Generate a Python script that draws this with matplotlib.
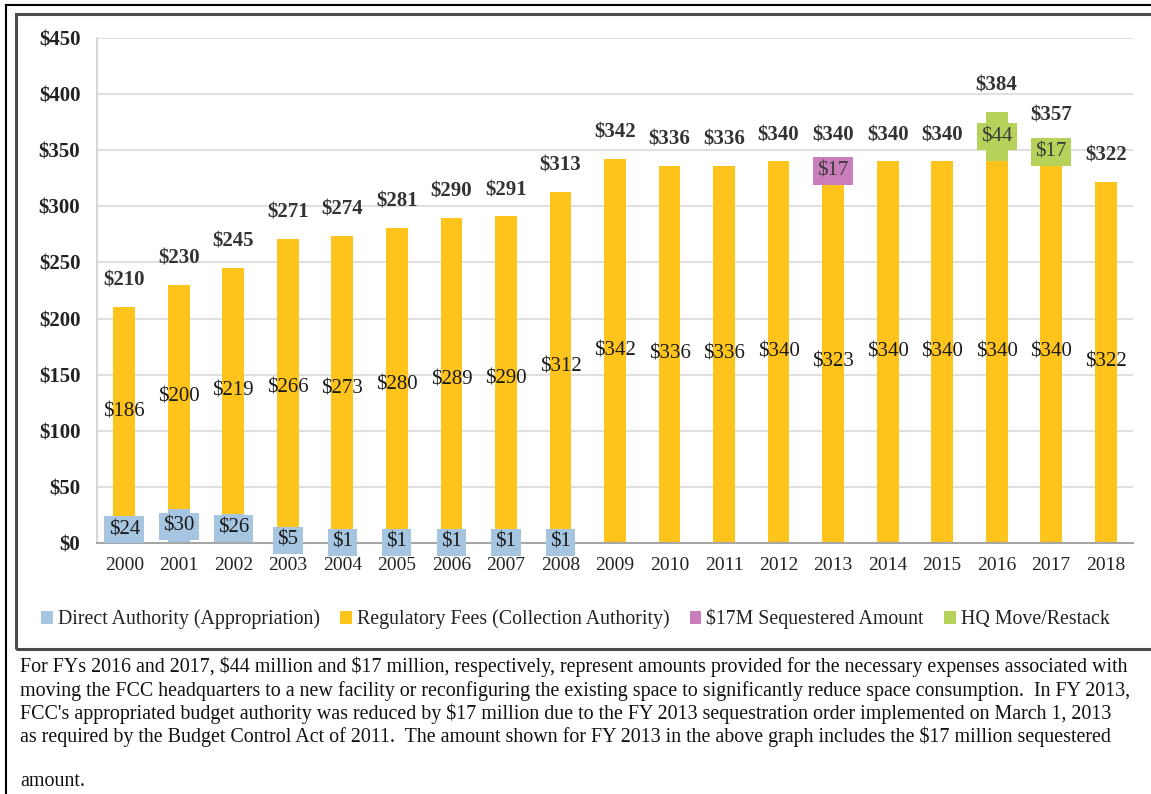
import numpy as np
import matplotlib
matplotlib.use("Agg")
import matplotlib.pyplot as plt
from matplotlib.lines import Line2D
from matplotlib.patches import Rectangle

plt.rcParams['font.family'] = ['Liberation Serif', 'DejaVu Serif']
plt.rcParams['text.parse_math'] = False

years = ['2000', '2001', '2002', '2003', '2004', '2005', '2006', '2007', '2008', '2009',
         '2010', '2011', '2012', '2013', '2014', '2015', '2016', '2017', '2018']
direct = [24, 30, 26, 5, 1, 1, 1, 1, 1, 0, 0, 0, 0, 0, 0, 0, 0, 0, 0]
fees = [186, 200, 219, 266, 273, 280, 289, 290, 312, 342, 336, 336, 340, 323, 340, 340, 340, 340, 322]
sequestered = [0, 0, 0, 0, 0, 0, 0, 0, 0, 0, 0, 0, 0, 17, 0, 0, 0, 0, 0]
hq_move = [0, 0, 0, 0, 0, 0, 0, 0, 0, 0, 0, 0, 0, 0, 0, 0, 44, 17, 0]
totals = [210, 230, 245, 271, 274, 281, 290, 291, 313, 342, 336, 336, 340, 340, 340, 340, 384, 357, 322]
yticks = [0, 50, 100, 150, 200, 250, 300, 350, 400, 450]

c_blue = '#A6C5E0'
c_yellow = '#FFC41C'
c_pink = '#C97DBA'
c_green = '#B5D25A'

fig = plt.figure(figsize=(11.51, 7.94), dpi=100)
ax = fig.add_axes([97/1151, 1-543/794, (1133-97)/1151, (543-38)/794])

x = np.arange(len(years))
w = 0.40
direct_a = np.array(direct)
fees_a = np.array(fees)
seq_a = np.array(sequestered)
hq_a = np.array(hq_move)

b1 = ax.bar(x, direct_a, w, color=c_blue, label='Direct Authority (Appropriation)', zorder=2)
b2 = ax.bar(x, fees_a, w, bottom=direct_a, color=c_yellow, label='Regulatory Fees (Collection Authority)', zorder=2)
b3 = ax.bar(x, seq_a, w, bottom=direct_a + fees_a, color=c_pink, label='$17M Sequestered Amount', zorder=2)
b4 = ax.bar(x, hq_a, w, bottom=direct_a + fees_a, color=c_green, label='HQ Move/Restack', zorder=2)

ax.set_xlim(-0.5, len(years) - 0.5)
ax.set_ylim(0, 450)
ax.set_yticks(yticks)
ax.set_yticklabels([f'${v}' for v in yticks], fontweight='bold', fontsize=15, color='#222222')
ax.set_xticks(x)
ax.set_xticklabels(years, fontsize=14, color='#222222')
ax.tick_params(axis='both', length=0)
ax.tick_params(axis='x', pad=10)
ax.tick_params(axis='y', pad=12)
ax.grid(axis='y', color='#D9D9D9', linewidth=1.2, zorder=0)
ax.set_axisbelow(True)
for s in ['top', 'right']:
    ax.spines[s].set_visible(False)
ax.spines['left'].set_color('#D0D0D0')
ax.spines['left'].set_linewidth(1.2)
ax.spines['bottom'].set_color('#A6A6A6')
ax.spines['bottom'].set_linewidth(1.5)

# fee labels (centered in the yellow segment)
for i in range(len(years)):
    yc = direct[i] + fees[i] / 2
    ax.text(x[i], yc, f'${fees[i]}', ha='center', va='center', fontsize=15, color='#1a1a1a', zorder=4)

# direct labels with blue boxes
for i in range(len(years)):
    if direct[i] > 0:
        ax.text(x[i], direct[i] / 2, f'${direct[i]}', ha='center', va='center', fontsize=15,
                color='#1a1a1a', zorder=5,
                bbox=dict(boxstyle='square,pad=0.2', facecolor=c_blue, edgecolor='none'))

# sequestered labels
for i in range(len(years)):
    if sequestered[i] > 0:
        yc = direct[i] + fees[i] + sequestered[i] / 2
        ax.text(x[i], yc, f'${sequestered[i]}', ha='center', va='center', fontsize=15,
                color='#3a3a3a', zorder=5,
                bbox=dict(boxstyle='square,pad=0.2', facecolor=c_pink, edgecolor='none'))

# HQ labels
for i in range(len(years)):
    if hq_move[i] > 0:
        yc = direct[i] + fees[i] + hq_move[i] / 2
        ax.text(x[i], yc, f'${hq_move[i]}', ha='center', va='center', fontsize=15,
                color='#3a3a3a', zorder=5,
                bbox=dict(boxstyle='square,pad=0.2', facecolor=c_green, edgecolor='none'))

# totals
for i in range(len(years)):
    ax.annotate(f'${totals[i]}', (x[i], totals[i]), xytext=(0, 19), textcoords='offset points',
                ha='center', va='center', fontsize=15, fontweight='bold', color='#333333', zorder=5)

leg = fig.legend(handles=[b1, b2, b3, b4], loc='center', bbox_to_anchor=(0.5, 1-619/794), ncol=4,
                 frameon=False, fontsize=14.3, handlelength=0.6, handleheight=0.6,
                 handletextpad=0.25, columnspacing=1.0, borderpad=0)
for t in leg.get_texts():
    t.set_color('#222222')

# frames
fig.add_artist(Line2D([6/1151, 6/1151], [0, 1-5/794], transform=fig.transFigure, color='black', linewidth=1.5))
fig.add_artist(Line2D([6/1151, 1], [1-5/794, 1-5/794], transform=fig.transFigure, color='black', linewidth=1.5))
fig.add_artist(Rectangle((16/1151, 1-649/794), 1.2, (649-14)/794, transform=fig.transFigure,
                         fill=False, edgecolor='#4a4a4a', linewidth=2.2))

caption = [
    "For FYs 2016 and 2017, $44 million and $17 million, respectively, represent amounts provided for the necessary expenses associated with",
    "moving the FCC headquarters to a new facility or reconfiguring the existing space to significantly reduce space consumption.  In FY 2013,",
    "FCC's appropriated budget authority was reduced by $17 million due to the FY 2013 sequestration order implemented on March 1, 2013",
    "as required by the Budget Control Act of 2011.  The amount shown for FY 2013 in the above graph includes the $17 million sequestered",
    "amount.",
]
line_y = [667, 691, 714, 737, 782]
for txt, yy in zip(caption, line_y):
    fig.text(20/1151, 1-yy/794, txt, ha='left', va='center', fontsize=14.4, color='#111111')

fig.savefig('out.png', dpi=100)
